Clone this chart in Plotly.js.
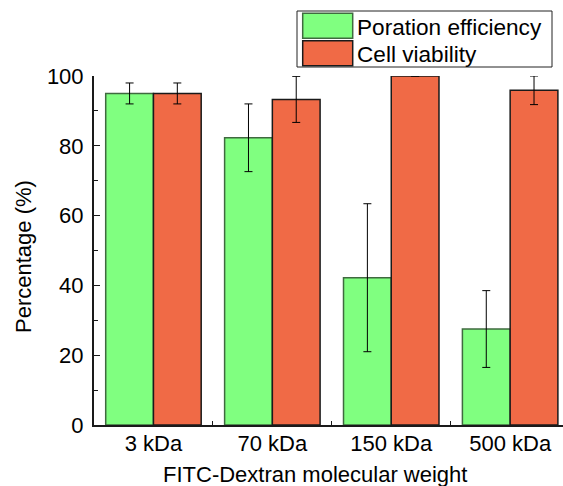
<!DOCTYPE html>
<html>
<head>
<meta charset="utf-8">
<script src="https://cdn.plot.ly/plotly-3.0.1.min.js"></script>
<style>
  html, body { margin: 0; padding: 0; background: #fff; overflow: hidden; }
  #chart { width: 563px; height: 486px; }
</style>
</head>
<body>
<div id="chart"></div>
<script>
// ---- Data ----
const categories = ['3 kDa', '70 kDa', '150 kDa', '500 kDa'];
const porationValues = [95, 82.3, 42.2, 27.5];
const porationErrors = [3, 9.7, 21.2, 11];
const viabilityValues = [95, 93.3, 100, 95.9];
const viabilityErrors = [3, 6.6, 0, 4.1];
const seriesNames = ['Poration efficiency', 'Cell viability'];
const yTickValues = [0, 20, 40, 60, 80, 100];
const xAxisTitle = 'FITC-Dextran molecular weight';
const yAxisTitle = 'Percentage (%)';

// ---- Styles ----
const FONT = 'Liberation Sans, Arial, Helvetica, sans-serif';
const GREEN = '#80FF80';
const GREEN_LINE = '#3f6a3f';
const RED = '#F06A46';
const RED_LINE = '#1a1a1a';
const AXIS = '#1a1a1a';

// plot-area geometry in pixels
const L = 94, T = 76, W = 469, H = 349;
const px = x => (x - L) / W;
const py = y => (T + H - y) / H;

const traces = [
  {
    type: 'bar', name: seriesNames[0], x: categories, y: porationValues,
    marker: { color: GREEN, line: { color: GREEN_LINE, width: 1.5 } },
    error_y: { type: 'data', array: porationErrors, visible: true, color: '#000', thickness: 1, width: 4 },
    cliponaxis: false, showlegend: false, hoverinfo: 'none'
  },
  {
    type: 'bar', name: seriesNames[1], x: categories, y: viabilityValues,
    marker: { color: RED, line: { color: RED_LINE, width: 1.5 } },
    error_y: { type: 'data', array: viabilityErrors, visible: true, color: '#000', thickness: 1, width: 4 },
    cliponaxis: false, showlegend: false, hoverinfo: 'none'
  }
];

const legendRows = [
  { name: seriesNames[0], fill: GREEN, line: GREEN_LINE, top: 13.3, bottom: 38.3 },
  { name: seriesNames[1], fill: RED, line: RED_LINE, top: 40.7, bottom: 65.7 }
];

const shapes = [
  { type: 'rect', xref: 'paper', yref: 'paper', x0: px(297), x1: px(552), y0: py(67), y1: py(11),
    line: { color: '#222', width: 1 }, fillcolor: '#fff', layer: 'above' }
];
const annotations = [];
legendRows.forEach(r => {
  shapes.push({ type: 'rect', xref: 'paper', yref: 'paper', x0: px(302.7), x1: px(352.7),
    y0: py(r.bottom), y1: py(r.top), line: { color: r.line, width: 1.5 }, fillcolor: r.fill, layer: 'above' });
  annotations.push({ xref: 'paper', yref: 'paper', x: px(354.5), y: py((r.top + r.bottom) / 2 + 1.5),
    xanchor: 'left', yanchor: 'middle', text: r.name, showarrow: false,
    font: { family: FONT, size: 22.6, color: '#000' } });
});
annotations.push({ xref: 'paper', yref: 'paper', x: px(315), y: py(474.5), xanchor: 'center', yanchor: 'middle',
  text: xAxisTitle, showarrow: false, borderpad: 0, font: { family: FONT, size: 22, color: '#000' } });
annotations.push({ xref: 'paper', yref: 'paper', x: px(23), y: py(257), xanchor: 'center', yanchor: 'middle',
  text: yAxisTitle, textangle: -90, showarrow: false, font: { family: FONT, size: 22, color: '#000' } });

const layout = {
  width: 563, height: 486,
  margin: { l: L, r: 563 - L - W, t: T, b: 486 - T - H, pad: 0 },
  paper_bgcolor: '#fff', plot_bgcolor: '#fff',
  font: { family: FONT, size: 22, color: '#000' },
  barmode: 'group', bargap: 0.197, bargroupgap: 0,
  showlegend: false,
  xaxis: {
    type: 'category', range: [-0.5, -0.5 + W / 118.9],
    showline: true, linecolor: AXIS, linewidth: 2,
    showgrid: false, zeroline: false,
    ticks: 'inside', tickson: 'boundaries', ticklen: 4, tickwidth: 1, tickcolor: AXIS,
    tickfont: { family: FONT, size: 22, color: '#000' },
    ticklabelstandoff: -2
  },
  yaxis: {
    range: [0, 100], tickvals: yTickValues,
    showline: true, linecolor: AXIS, linewidth: 2,
    showgrid: false, zeroline: false,
    ticks: 'inside', ticklen: 6, tickwidth: 1, tickcolor: AXIS,
    minor: { dtick: 10, ticks: 'inside', ticklen: 4, tickwidth: 1, tickcolor: AXIS, showgrid: false },
    tickfont: { family: FONT, size: 22, color: '#000' },
    ticklabelstandoff: 4
  },
  shapes: shapes,
  annotations: annotations
};

Plotly.newPlot('chart', traces, layout, { displayModeBar: false, staticPlot: true });
</script>
</body>
</html>
